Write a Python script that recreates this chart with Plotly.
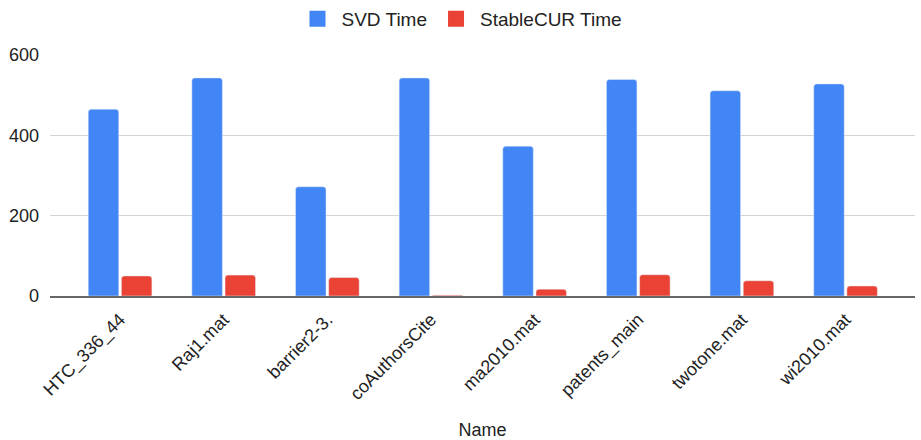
import plotly.graph_objects as go

names = ["HTC_336_44", "Raj1.mat", "barrier2-3.", "coAuthorsCite",
         "ma2010.mat", "patents_main", "twotone.mat", "wi2010.mat"]
svd_time = [465, 543, 272, 543, 373, 539, 511, 528]
stablecur_time = [50, 52, 46, 2, 17, 53, 38, 25]

BLUE = "#4285F4"
RED = "#EA4335"
FONT = "Liberation Sans, Arial, sans-serif"

fig = go.Figure()
fig.add_trace(go.Bar(x=names, y=svd_time, name="SVD Time",
                     marker=dict(color=BLUE, cornerradius=3), showlegend=False))
fig.add_trace(go.Bar(x=names, y=stablecur_time, name="StableCUR Time",
                     marker=dict(color=RED, cornerradius=3), showlegend=False))

# legend entries with larger square swatches
for label, col in [("SVD Time", BLUE), ("StableCUR Time", RED)]:
    fig.add_trace(go.Scatter(x=[None], y=[None], mode="markers", name=label,
                             marker=dict(symbol="square", size=20, color=col)))

fig.update_layout(
    width=921, height=440,
    margin=dict(l=50, r=6, t=55, b=144, autoexpand=False),
    paper_bgcolor="white", plot_bgcolor="white",
    font=dict(family=FONT, size=17, color="#222222"),
    barmode="group", bargap=0.36, bargroupgap=0.08,
    legend=dict(orientation="h", x=0.5, xanchor="center", xref="container",
                y=1.0, yanchor="top", yref="container", itemsizing="trace",
                font=dict(size=19, color="#222222"), itemwidth=38,
                tracegroupgap=0),
    showlegend=True,
    xaxis=dict(range=[-0.676, 7.67], tickangle=-45, showgrid=False,
               showline=True, linecolor="#666666", linewidth=2,
               automargin=False,
               tickfont=dict(size=18, color="#222222"),
               ticklabelstandoff=4,
               title=dict(text="Name", font=dict(size=18, color="#222222"), standoff=24)),
    yaxis=dict(range=[0, 600], tickvals=[0, 200, 400, 600],
               showgrid=True, gridcolor="#d4d4d4", gridwidth=1,
               zeroline=False, showline=False, automargin=False,
               tickfont=dict(size=18, color="#222222"),
               ticklabelstandoff=10),
)

fig.write_html("out.html")
